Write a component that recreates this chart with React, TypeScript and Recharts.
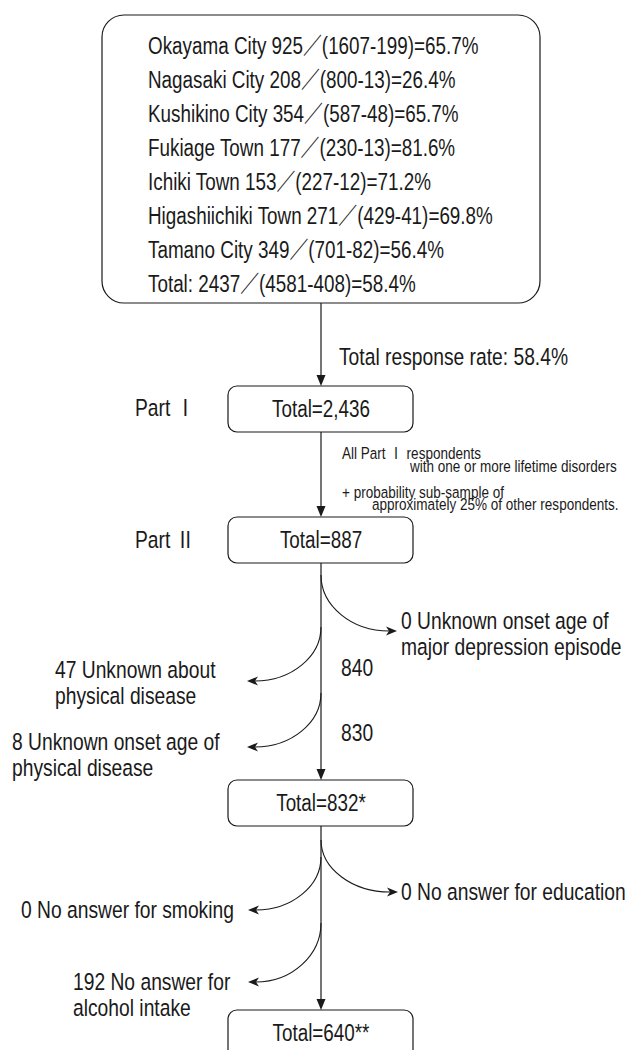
import { ScatterChart, Scatter, XAxis, YAxis, ReferenceArea, ReferenceLine } from 'recharts';

// ---- values ----
const sites = ['Okayama City', 'Nagasaki City', 'Kushikino City', 'Fukiage Town', 'Ichiki Town', 'Higashiichiki Town', 'Tamano City'];
const responded = [925, 208, 354, 177, 153, 271, 349];
const sampled = [1607, 800, 587, 230, 227, 429, 701];
const ineligible = [199, 13, 48, 13, 12, 41, 82];
const siteRates = ['65.7', '26.4', '65.7', '81.6', '71.2', '69.8', '56.4'];
const totalRow = 'Total: 2437／(4581-408)=58.4%';

const responseNote = 'Total response rate: 58.4%';
const samplingNote = [
    'All Part Ⅰ respondents',
    'with one or more lifetime disorders',
    '+ probability sub-sample of',
    'approximately 25% of other respondents.',
];
const stageNames = ['Part Ⅰ', 'Part Ⅱ'];
const stageTotals = ['2,436', '887', '832*', '640**'];
const remaining = ['840', '830'];
const exclusionCounts = [0, 47, 8, 0, 0, 192];
const exclusionReasons = [
    ['Unknown onset age of', 'major depression episode'],
    ['Unknown about', 'physical disease'],
    ['Unknown onset age of', 'physical disease'],
    ['No answer for education'],
    ['No answer for smoking'],
    ['No answer for', 'alcohol intake'],
];

// ---- layout (chart coordinates, 1 unit = 1 px) ----
const W = 625;
const H = 1050;
const MAIN_X = 321;
const BOX_L = 228;
const BOX_R = 413;
const BOX_H = 46;
const stageTop = [386, 517, 780, 1010];
const siteBox = { x1: 102, x2: 540, y1: 15, y2: 303 };
const siteTextX = 148;
const siteY0 = 46;
const siteStep = 33.9;
const branchLayout = [
    { y0: 575, tipX: 397, tipY: 631, textX: 401, textY: 621 },
    { y0: 627, tipX: 247, tipY: 681, textX: 55, textY: 670 },
    { y0: 693, tipX: 247, tipY: 747, textX: 12, textY: 742 },
    { y0: 840, tipX: 398, tipY: 892, textX: 401, textY: 892 },
    { y0: 857, tipX: 248, tipY: 910, textX: 21, textY: 910 },
    { y0: 923, tipX: 248, tipY: 982, textX: 73, textY: 982 },
];
const remainingY = [668, 733];
const stageNameY = [408, 540];

// no narrow face installed: squeeze Liberation Sans horizontally instead
const FONT = "'Liberation Sans', Arial, 'Noto Sans CJK JP', sans-serif";
const NARROW = 0.82;
const INK = '#1a1a1a';

type Label = { x: number; y: number; text: string; size: number; anchor?: string };

const siteRows = sites.map((s, i) => `${s} ${responded[i]}／(${sampled[i]}-${ineligible[i]})=${siteRates[i]}%`).concat(totalRow);

const labels: Label[] = [
    ...siteRows.map((t, i) => ({ x: siteTextX, y: siteY0 + i * siteStep, text: t, size: 23 })),
    { x: 339, y: 357, text: responseNote, size: 23.5 },
    { x: 342, y: 453, text: samplingNote[0], size: 16.5 },
    { x: 410, y: 466, text: samplingNote[1], size: 16.5 },
    { x: 342, y: 492, text: samplingNote[2], size: 16.5 },
    { x: 372, y: 504, text: samplingNote[3], size: 16.5 },
    ...stageNames.map((t, i) => ({ x: 135, y: stageNameY[i], text: t, size: 23.5 })),
    ...stageTotals.map((t, i) => ({ x: MAIN_X, y: stageTop[i] + BOX_H / 2, text: `Total=${t}`, size: 23, anchor: 'middle' })),
    ...remaining.map((t, i) => ({ x: 341, y: remainingY[i], text: t, size: 23.5 })),
    ...exclusionReasons.flatMap((lines, i) =>
        lines.map((line, j) => ({
            x: branchLayout[i].textX,
            y: branchLayout[i].textY + j * 26,
            text: j === 0 ? `${exclusionCounts[i]} ${line}` : line,
            size: 23.5,
        }))
    ),
];

const TextMark = (props: any) => {
    const { cx, cy, payload } = props;
    return (
        <text transform={`translate(${cx},${cy}) scale(${NARROW},1)`} x={0} y={0} dy="0.36em"
            textAnchor={payload.anchor || 'start'} fontSize={payload.size} fontFamily={FONT} fill={INK}>
            {payload.text}
        </text>
    );
};

const roundBox = (r: number) => (p: any) => (
    <rect x={p.x} y={p.y} width={p.width} height={p.height} rx={r} ry={r}
        fill="#fff" stroke={INK} strokeWidth={1.2} />
);

const DownArrow = (p: any) => {
    const { x1, y1, x2, y2 } = p;
    return (
        <g>
            <line x1={x1} y1={y1} x2={x2} y2={y2 - 9} stroke={INK} strokeWidth={1.2} />
            <path d={`M${x2},${y2} L${x2 - 4.5},${y2 - 11} L${x2 + 4.5},${y2 - 11} Z`} fill={INK} />
        </g>
    );
};

const BranchArrow = (p: any) => {
    const { x1, y1, x2, y2 } = p;
    const s = Math.sign(x2 - x1);
    const xe = x2 - s * 8;
    const k = 0.55;
    const d = `M${x1},${y1} C${x1},${y1 + k * (y2 - y1)} ${xe - s * k * Math.abs(xe - x1)},${y2} ${xe},${y2}`;
    const head = `M${x2},${y2} L${x2 - s * 11},${y2 - 4.5} L${x2 - s * 8},${y2} L${x2 - s * 11},${y2 + 4.5} Z`;
    return (
        <g>
            <path d={d} fill="none" stroke={INK} strokeWidth={1.1} />
            <path d={head} fill={INK} />
        </g>
    );
};

const mainArrows = [
    [siteBox.y2, stageTop[0]],
    ...stageTop.slice(0, -1).map((t, i) => [t + BOX_H, stageTop[i + 1]]),
];

export default function App() {
    return (
        <div style={{ position: 'absolute', left: 0, top: 0, background: '#fff' }}>
            <ScatterChart width={W} height={H} margin={{ top: 0, right: 0, bottom: 0, left: 0 }}>
                <XAxis type="number" dataKey="x" domain={[0, W]} allowDataOverflow hide />
                <YAxis type="number" dataKey="y" domain={[0, H]} allowDataOverflow reversed hide />
                <ReferenceArea x1={siteBox.x1} x2={siteBox.x2} y1={siteBox.y1} y2={siteBox.y2}
                    ifOverflow="visible" shape={roundBox(22)} />
                {stageTop.map((t, i) => (
                    <ReferenceArea key={`box${i}`} x1={BOX_L} x2={BOX_R} y1={t} y2={t + BOX_H + (i === 3 ? 30 : 0)}
                        ifOverflow="visible" shape={roundBox(9)} />
                ))}
                {mainArrows.map(([a, b], i) => (
                    <ReferenceLine key={`arr${i}`} segment={[{ x: MAIN_X, y: a }, { x: MAIN_X, y: b }]}
                        ifOverflow="visible" shape={DownArrow} />
                ))}
                {branchLayout.map((b, i) => (
                    <ReferenceLine key={`br${i}`} segment={[{ x: MAIN_X, y: b.y0 }, { x: b.tipX, y: b.tipY }]}
                        ifOverflow="visible" shape={BranchArrow} />
                ))}
                <Scatter data={labels} dataKey="y" shape={TextMark} isAnimationActive={false} />
            </ScatterChart>
        </div>
    );
}
